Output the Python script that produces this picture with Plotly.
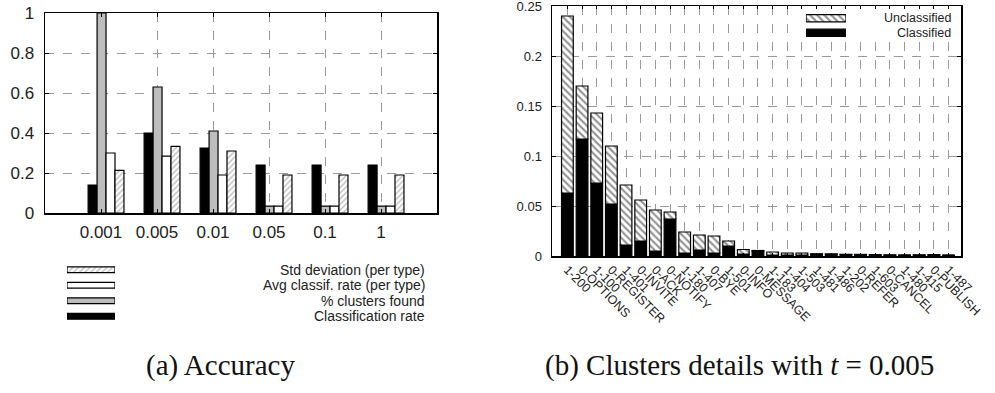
import plotly.graph_objects as go

W, H = 995, 393

# ---------------- data: (a) Accuracy ----------------
thresholds = ["0.001", "0.005", "0.01", "0.05", "0.1", "1"]
classification_rate = [0.14, 0.40, 0.325, 0.24, 0.24, 0.24]
clusters_found = [1.0, 0.63, 0.41, 0.034, 0.034, 0.034]
avg_classif_rate = [0.30, 0.284, 0.19, 0.034, 0.034, 0.034]
std_deviation = [0.213, 0.333, 0.31, 0.19, 0.19, 0.19]
acc_names = ["Classification rate", "% clusters found",
             "Avg classif. rate (per type)", "Std deviation (per type)"]
acc_series = [classification_rate, clusters_found, avg_classif_rate, std_deviation]

# ---------------- data: (b) Clusters details ----------------
cluster_labels = ["1-200", "0-OPTIONS", "1-100", "0-REGISTER", "1-401", "0-INVITE",
                  "0-ACK", "0-NOTIFY", "1-180", "1-407", "0-BYE", "1-501", "0-INFO",
                  "0-MESSAGE", "1-183", "1-404", "1-503", "1-481", "1-486", "1-202",
                  "0-REFER", "1-603", "0-CANCEL", "1-480", "1-415", "0-PUBLISH", "1-487"]
classified = [0.063, 0.117, 0.073, 0.052, 0.011, 0.015, 0.005, 0.037, 0.003, 0.006,
              0.003, 0.010, 0.002, 0.005, 0.001, 0.001, 0.001, 0.002, 0.0018, 0.0015,
              0.0015, 0.0012, 0.001, 0.001, 0.001, 0.0012, 0.0008]
unclassified = [0.177, 0.053, 0.070, 0.058, 0.060, 0.041, 0.041, 0.007, 0.021, 0.015,
                0.017, 0.005, 0.0045, 0.0005, 0.003, 0.002, 0.002, 0.0002, 0.0002, 0.0002,
                0.0001, 0.0001, 0.0001, 0.0, 0.0001, 0.0001, 0.0]
clu_names = ["Classified", "Unclassified"]

# ---------------- styles ----------------
FONT = "Liberation Sans"
TXT = "#222222"


def px(x0, x1):
    return [x0 / W, x1 / W]


def py(y_top, y_bot):
    return [1 - y_bot / H, 1 - y_top / H]


acc_styles = [
    dict(color="black", line=dict(color="black", width=1.2)),
    dict(color="#bdbdbd", line=dict(color="black", width=1.2)),
    dict(color="white", line=dict(color="black", width=1.2)),
    dict(color="white", line=dict(color="black", width=1.2),
         pattern=dict(shape="/", fgcolor="#707070", bgcolor="white", size=4, solidity=0.3)),
]
acc_offsets = [-0.23, -0.07, 0.09, 0.25]
acc_width = 0.16

clu_styles = [
    dict(color="black", line=dict(color="black", width=1.2)),
    dict(color="white", line=dict(color="black", width=1.2),
         pattern=dict(shape="\\", fgcolor="#2a2a2a", bgcolor="white", size=5, solidity=0.42)),
]

fig = go.Figure()

# (a) grouped bars
for name, vals, st, off in zip(acc_names, acc_series, acc_styles, acc_offsets):
    fig.add_trace(go.Bar(x=thresholds, y=vals, name=name, marker=st,
                         offset=off, width=acc_width, xaxis="x", yaxis="y"))

# (b) stacked bars
fig.add_trace(go.Bar(x=cluster_labels, y=classified, name="Classified",
                     marker=clu_styles[0], width=0.8, xaxis="x2", yaxis="y2"))
fig.add_trace(go.Bar(x=cluster_labels, y=unclassified, base=classified, name="Unclassified",
                     marker=clu_styles[1], width=0.8, xaxis="x2", yaxis="y2"))

# legend samples for (a)
for name, st in zip(acc_names, acc_styles):
    fig.add_trace(go.Bar(x=[1], y=[name], orientation="h", width=0.38, marker=st,
                         xaxis="x3", yaxis="y3", hoverinfo="skip"))
# legend samples for (b)
for name, st in zip(clu_names, clu_styles):
    fig.add_trace(go.Bar(x=[1], y=[name], orientation="h", width=0.5, marker=st,
                         xaxis="x4", yaxis="y4", hoverinfo="skip"))

grid = dict(showgrid=True, gridcolor="#9a9a9a", griddash="dash", gridwidth=1)
frame = dict(showline=True, linecolor="black", linewidth=1.5, mirror="allticks",
             ticks="inside", tickcolor="black", zeroline=False, automargin=False,
             ticklabeloverflow="allow")
hidden = dict(visible=False, automargin=False)

# pixel geometry of panel (b)
B_L, B_R, B_T, B_B = 552, 961, 6, 256
B_XR = [-1.05, 26.85]
B_YR = [0, 0.2500001]

fig.update_layout(
    width=W, height=H, autosize=False,
    margin=dict(l=0, r=0, t=0, b=0, pad=0, autoexpand=False),
    paper_bgcolor="white", plot_bgcolor="white",
    showlegend=False, barmode="overlay", dragmode=False,
    font=dict(family=FONT, color=TXT),
    xaxis=dict(domain=px(45, 437), anchor="y", type="category",
               categoryorder="array", categoryarray=thresholds, range=[-1, 6],
               tickfont=dict(size=17), ticklen=4, ticklabelstandoff=3, **grid, **frame),
    yaxis=dict(domain=py(13, 213), anchor="x", range=[0, 1.0000001], dtick=0.2,
               tickfont=dict(size=17), ticklen=4, ticklabelstandoff=6, **grid, **frame),
    xaxis2=dict(domain=px(B_L, B_R), anchor="y2", type="category",
                categoryorder="array", categoryarray=cluster_labels, range=B_XR,
                tickmode="array", tickvals=cluster_labels, ticktext=cluster_labels,
                tickangle=45, tickfont=dict(size=12.5), ticklen=3, **grid, **frame),
    yaxis2=dict(domain=py(B_T, B_B), anchor="x2", range=B_YR, dtick=0.05,
                tickfont=dict(size=13), ticklen=4, ticklabelstandoff=6, **grid, **frame),
    xaxis3=dict(domain=px(67, 115), anchor="y3", range=[0, 1], **hidden),
    yaxis3=dict(domain=py(262, 324), anchor="x3", type="category",
                categoryorder="array", categoryarray=acc_names, range=[-0.5, 3.5], **hidden),
    xaxis4=dict(domain=px(806, 846), anchor="y4", range=[0, 1], **hidden),
    yaxis4=dict(domain=py(11, 40), anchor="x4", type="category",
                categoryorder="array", categoryarray=clu_names, range=[-0.5, 1.5], **hidden),
)


def bx(p):  # pixel x -> panel (b) x data
    return B_XR[0] + (p - B_L) / (B_R - B_L) * (B_XR[1] - B_XR[0])


def by(p):  # pixel y -> panel (b) y data
    return B_YR[0] + (B_B - p) / (B_B - B_T) * (B_YR[1] - B_YR[0])


# white legend box inside (b), hiding the grid behind it
fig.add_shape(type="rect", xref="x2", yref="y2",
              x0=bx(797), x1=bx(958), y0=by(40), y1=by(7.5),
              fillcolor="white", line=dict(width=0), layer="between")

# legend texts
for name in acc_names:
    fig.add_annotation(text=name, xref="paper", yref="y3", x=427 / W, y=name,
                       xanchor="right", yanchor="middle", showarrow=False,
                       font=dict(size=14, family=FONT, color=TXT))
for name in clu_names:
    fig.add_annotation(text=name, xref="paper", yref="y4", x=953 / W, y=name,
                       xanchor="right", yanchor="middle", showarrow=False,
                       font=dict(size=12.5, family=FONT, color=TXT))

# captions
fig.add_annotation(text="(a) Accuracy", xref="paper", yref="paper",
                   x=220 / W, y=1 - 365 / H, xanchor="center", yanchor="middle",
                   showarrow=False, font=dict(size=29, family="Liberation Serif", color="#111"))
fig.add_annotation(text="(b) Clusters details with <i>t</i> = 0.005", xref="paper", yref="paper",
                   x=739 / W, y=1 - 365 / H, xanchor="center", yanchor="middle",
                   showarrow=False, font=dict(size=29, family="Liberation Serif", color="#111"))

fig.write_html("out.html", config={"staticPlot": True, "displayModeBar": False})
